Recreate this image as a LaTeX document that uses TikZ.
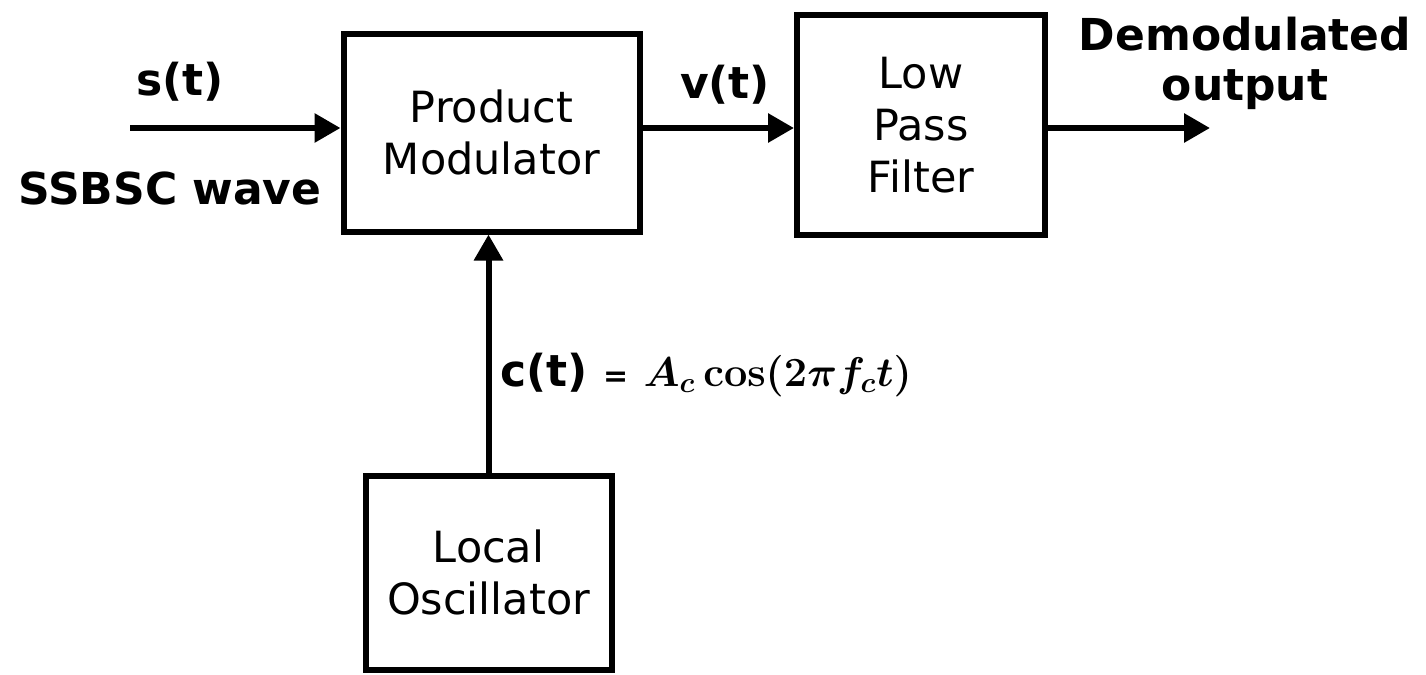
\documentclass[tikz,border=0pt]{standalone}
\usepackage{amsmath}
\usepackage[no-math]{fontspec}
\setmainfont{DejaVu Sans}
\usetikzlibrary{arrows.meta,positioning}

\tikzset{
  block/.style={draw, line width=3pt, align=center, inner sep=0pt,
    font=\fontsize{21.5}{26}\selectfont},
  sig/.style={line width=3pt, -{Triangle[length=13pt,width=14pt]}},
  lbl/.style={inner sep=0pt, align=center, font=\fontsize{22}{25}\selectfont\bfseries}
}

\begin{document}
\begin{tikzpicture}[x=0.5pt,y=0.5pt,yscale=-1,xscale=1]
\useasboundingbox (0,0) rectangle (1426,675);

% Blocks
\node [block, minimum width=148pt, minimum height=99pt] (pm) at (491.5,132.5) {Product\\Modulator};
\node [block, minimum width=124pt, minimum height=110pt] (lpf) at (921,125) {Low\\Pass\\Filter};
\node [block, minimum width=123pt, minimum height=97pt] (lo) at (488.5,572.5) {Local\\Oscillator};

% Free ends
\coordinate (in) at (130,128);
\coordinate (out) at (1210,128);

% Connectors
\draw [sig] (in) -- (pm.west |- in);
\draw [sig] (pm.east |- in) -- (lpf.west |- in);
\draw [sig] (lpf.east |- out) -- (out);
\draw [sig] (lo.north) -- (lo.north |- pm.south);

% Labels
\node [lbl] (st) at (180,82) {s(t)};
\node [lbl] (wave) at (170,188) {SSBSC wave};
\node [lbl] (vt) at (725,85) {v(t)};
\node [lbl] (demod) at (1245,63) {Demodulated\\output};
\node [lbl, anchor=west] (ct) at (500,375) {c(t) {\fontsize{15}{17}\selectfont =} $\boldsymbol{A_c\cos(2\pi f_c t)}$};

\end{tikzpicture}
\end{document}
